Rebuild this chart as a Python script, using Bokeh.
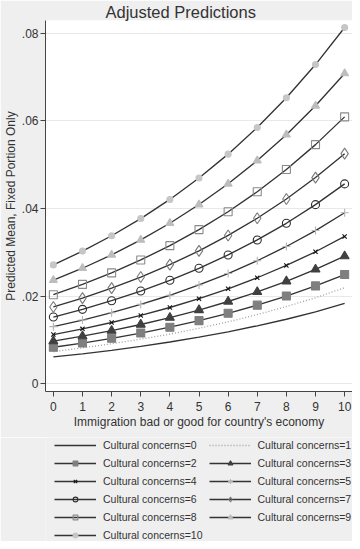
from bokeh.plotting import figure
from bokeh.models import Legend, LegendItem, FixedTicker, Range1d
from bokeh.layouts import column
from bokeh.embed import file_html
from bokeh.resources import INLINE

FONT = "Liberation Sans"

x_vals = [0, 1, 2, 3, 4, 5, 6, 7, 8, 9, 10]
x_ticks = [0, 1, 2, 3, 4, 5, 6, 7, 8, 9, 10]
y_ticks = [0, 0.02, 0.04, 0.06, 0.08]
y_tick_labels = ["0", ".02", ".04", ".06", ".08"]

series_names = ["Cultural concerns=%d" % k for k in range(11)]

cc0 = [0.0061, 0.0068, 0.0076, 0.0085, 0.0095, 0.0106, 0.0118, 0.0132, 0.0147, 0.0164, 0.0183]
cc1 = [0.0073, 0.00815, 0.0091, 0.01015, 0.0113, 0.01264, 0.0141, 0.01575, 0.0176, 0.0196, 0.0219]
cc2 = [0.0083, 0.00926, 0.01034, 0.01154, 0.01288, 0.01438, 0.01605, 0.01791, 0.01999, 0.02231, 0.0249]
cc3 = [0.0097, 0.01083, 0.01208, 0.01349, 0.01505, 0.0168, 0.01875, 0.02093, 0.02336, 0.02607, 0.0291]
cc4 = [0.0112, 0.0125, 0.01395, 0.01557, 0.01738, 0.0194, 0.02165, 0.02417, 0.02697, 0.0301, 0.0336]
cc5 = [0.0130, 0.01451, 0.01619, 0.01808, 0.02017, 0.02252, 0.02513, 0.02805, 0.03131, 0.03494, 0.0390]
cc6 = [0.0152, 0.01696, 0.01893, 0.02113, 0.02359, 0.02633, 0.02938, 0.0328, 0.0366, 0.04086, 0.0456]
cc7 = [0.0175, 0.01953, 0.0218, 0.02433, 0.02716, 0.03031, 0.03383, 0.03776, 0.04214, 0.04704, 0.0525]
cc8 = [0.0203, 0.02266, 0.02529, 0.02823, 0.0315, 0.03516, 0.03924, 0.0438, 0.04889, 0.05456, 0.0609]
cc9 = [0.0236, 0.02634, 0.0294, 0.03281, 0.03662, 0.04088, 0.04562, 0.05092, 0.05683, 0.06343, 0.0708]
cc10 = [0.0271, 0.03025, 0.03376, 0.03768, 0.04205, 0.04694, 0.05239, 0.05847, 0.06526, 0.07284, 0.0813]
all_series = [cc0, cc1, cc2, cc3, cc4, cc5, cc6, cc7, cc8, cc9, cc10]

BG = "#efefef"
LINE = "#333333"
TXT = "#333333"

# marker style per series: (marker, size, fill, line)
styles = [
    None,
    None,
    ("square", 8, "#7f7f7f", "#7f7f7f"),
    ("triangle", 9, "#404040", "#404040"),
    ("x", 6, None, "#111111"),
    ("cross", 8, None, "#b4b4b4"),
    ("circle", 8, None, "#2e2e2e"),
    ("diamond", 11, None, "#7a7a7a"),
    ("square", 8, None, "#8a8a8a"),
    ("triangle", 8, "#bdbdbd", "#bdbdbd"),
    ("circle", 6, "#c6c6c6", "#c6c6c6"),
]


def draw_series(fig, visible=True):
    out = []
    for k, ys in enumerate(all_series):
        rs = []
        if k == 1:
            rs.append(fig.line(x_vals, ys, line_color="#a0a0a0", line_width=1.3,
                               line_dash="1 2", visible=visible))
        else:
            rs.append(fig.line(x_vals, ys, line_color=LINE, line_width=1.35, visible=visible))
        st = styles[k]
        if st is not None:
            marker, size, fill, line = st
            rs.append(fig.scatter(x_vals, ys, marker=marker, size=size,
                                  fill_color=fill, fill_alpha=1.0 if fill else 0.0,
                                  line_color=line, line_width=1.1, visible=visible))
        out.append(rs)
    return out


p = figure(width=352, height=437, output_backend="svg", toolbar_location=None,
           x_range=Range1d(-0.27, 10.27), y_range=Range1d(-0.0018, 0.0829),
           background_fill_color="white", border_fill_color=BG,
           min_border_left=36, min_border_right=0, min_border_top=10, min_border_bottom=46)
p.outline_line_color = None
p.title.text = "Adjusted Predictions"
p.title.align = "left"
p.title.offset = 60
p.title.text_font = FONT
p.title.text_font_size = "16.5px"
p.title.text_font_style = "normal"
p.title.text_color = TXT
p.title.standoff = 0

p.xgrid.visible = False
p.ygrid.grid_line_color = "#e8e8e8"
p.ygrid.grid_line_width = 1

p.xaxis.ticker = FixedTicker(ticks=x_ticks)
p.yaxis.ticker = FixedTicker(ticks=y_ticks)
p.yaxis.major_label_overrides = {t: l for t, l in zip(y_ticks, y_tick_labels)}
for ax in (p.xaxis[0], p.yaxis[0]):
    ax.axis_line_color = "#444444"
    ax.major_tick_line_color = "#444444"
    ax.major_tick_out = 5
    ax.major_tick_in = 0
    ax.minor_tick_out = 0
    ax.minor_tick_in = 0
    ax.major_label_text_font = FONT
    ax.major_label_text_font_size = "12px"
    ax.major_label_text_color = TXT
    ax.axis_label_text_font = FONT
    ax.axis_label_text_font_size = "12px"
    ax.axis_label_text_font_style = "normal"
    ax.axis_label_text_color = TXT
    ax.axis_label_standoff = 1
p.xaxis.major_label_standoff = 5
p.yaxis.major_label_standoff = 2
p.xaxis.axis_label = "Immigration bad or good for country's economy"
p.yaxis.axis_label = "Predicted Mean, Fixed Portion Only"
p.yaxis.major_label_orientation = "horizontal"

draw_series(p, True)

# legend panel below the chart
leg = figure(width=352, height=104, output_backend="svg", toolbar_location=None,
             x_range=Range1d(-0.27, 10.27), y_range=Range1d(-0.0018, 0.0829),
             x_axis_type=None, y_axis_type=None,
             background_fill_color=BG, border_fill_color=BG,
             min_border_left=0, min_border_right=0, min_border_top=0, min_border_bottom=0)
leg.outline_line_color = None
leg.xgrid.visible = False
leg.ygrid.visible = False
leg_rs = draw_series(leg, False)

items = [LegendItem(label=series_names[k], renderers=leg_rs[k]) for k in range(11)]
legend = Legend(items=items, orientation="horizontal", ncols=2, location=(9, 0))
legend.background_fill_alpha = 0
legend.border_line_color = None
legend.label_text_font = FONT
legend.label_text_font_size = "10.5px"
legend.label_text_color = TXT
legend.glyph_width = 42
legend.glyph_height = 12
legend.label_height = 12
legend.label_width = 94
legend.label_standoff = 7
legend.spacing = 6
legend.padding = 0
legend.margin = 0
leg.add_layout(legend, "center")

layout = column(p, leg, spacing=0)
open("out.html", "w").write(file_html(layout, INLINE))
